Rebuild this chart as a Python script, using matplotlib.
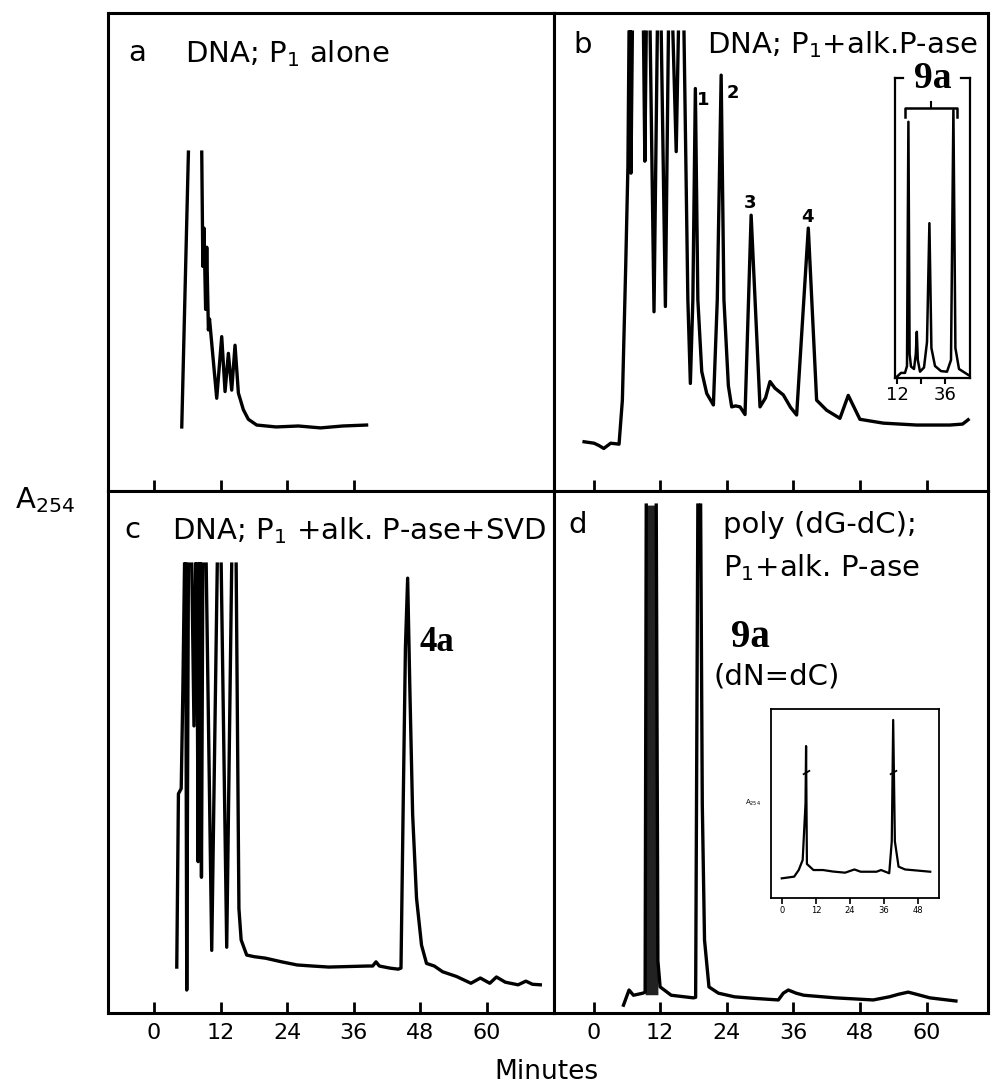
import numpy as np
import matplotlib.pyplot as plt

nan = np.nan
plt.rcParams['font.family'] = ['DejaVu Sans']
plt.rcParams['mathtext.default'] = 'regular'

# ------------------------------------------------------------
# traces (minutes, relative A254)
# nan = pen ran off-scale at the top
# ------------------------------------------------------------
a_t = [5.0, 6.2, nan, 8.6, 8.8, 9.0, 9.3, 9.5, 9.8, 10.0, 11.3, 12.2, 12.8, 13.4,
       14.0, 14.6, 15.2, 16.1, 17.0, 18.5, 22.0, 26.0, 30.0, 34.0, 38.3]
a_v = [13.4, 70.9, nan, 70.9, 47, 55, 38, 51, 33.7, 36, 19.4, 32.3, 20.8, 28.8,
       21.1, 30.5, 20.5, 17.0, 15.0, 13.8, 13.4, 13.6, 13.2, 13.6, 13.8]

b_t = [-1.7, 0.1, 1.0, 1.85, 3.1, 4.6, 5.2, 5.8, 6.2, 6.4, nan, 6.6, 6.75, 7.0, nan,
       9.0, 9.25, 9.5, nan, 10.2, 10.9, 11.5, nan, 12.2, 12.95, 13.5, nan,
       14.3, 14.9, 15.3, nan, 16.3, 17.0, 17.45, 17.9, 18.35, 18.8, 19.5, 20.4,
       21.6, 22.3, 23.0, 23.5, 24.3, 24.9, 25.6, 26.4, 27.3, 28.4,
       30.0, 31.0, 31.8, 32.7, 34.2, 35.5, 36.6, 38.7, 40.2, 42.0,
       44.4, 45.9, 48.0, 52.2, 58.2, 64.2, 66.5, 67.5]
b_v = [10.3, 10.0, 9.5, 8.9, 10.0, 9.8, 19, 47, 68, 96, nan, 96, 66.5, 96, nan,
       96, 69, 96, nan, 96, 37.5, 96, nan, 96, 38.6, 96, nan,
       96, 71, 96, nan, 96, 40, 22.5, 40, 84.2, 40, 25, 20.4,
       18.0, 40, 87, 40, 22, 17.6, 17.8, 17.6, 16.0, 57.7,
       17.6, 19.5, 22.9, 21.5, 20.1, 17.5, 15.9, 55.0, 19.0, 16.9,
       15.2, 20.0, 15.0, 14.2, 13.8, 13.8, 14.0, 14.9]
b_peak_labels = ['1', '2', '3', '4']
b_peak_t = [19.7, 25.1, 28.2, 38.6]
b_peak_v = [81.8, 83.3, 60.3, 57.3]

# inset of panel b (9a standard)
ib_t = [11.9, 14.0, 16.0, 17.0, 17.7, 18.3, 19.0, 20.5, 21.4, 21.9, 22.4, 23.5,
        25.5, 27.0, 28.2, 29.2, 31.0, 34.0, 37.0, 39.0, 40.2, 41.2, 43.0, 47.7]
ib_v = [0.4, 1.7, 1.7, 4, 85.4, 8, 3.8, 3.0, 8, 15.4, 6, 2.1,
        3.5, 12, 51.6, 10, 4, 2.3, 2.1, 6, 89.3, 10, 3, 1.0]

c_t = [4.1, 4.4, 4.9, 5.2, 5.5, nan, 5.7, 5.9, 6.2, nan, 6.8, 7.2, 7.5, nan,
       7.7, 7.95, 8.2, nan, 8.3, 8.55, 8.8, nan, 9.4, 10.4, 11.4, nan,
       12.1, 13.1, 14.0, nan, 14.8, 15.3, 15.7, 16.7, 18.0, 20.1, 23.0, 25.8,
       28.5, 31.5, 35.0, 38.5, 39.4, 40.0, 40.6, 42.5, 44.0, 44.5, 44.9, 45.3,
       45.7, 46.1, 46.6, 47.3, 48.2, 49.1, 50.5, 52.0, 54.5, 57.1, 58.8, 60.5,
       61.7, 63.3, 65.6, 67.0, 68.2, 69.6]
c_v = [8.8, 42, 43, 62, 86, nan, 86, 4.4, 86, nan, 86, 55, 86, nan,
       86, 29, 86, nan, 86, 26, 86, nan, 86, 12, 86, nan,
       86, 12.6, 86, nan, 86, 20, 14, 11.1, 10.8, 10.5, 9.8, 9.2,
       9.0, 8.8, 8.9, 9.0, 9.0, 9.8, 9.0, 8.6, 8.4, 8.6, 40, 70,
       83.3, 62, 38, 22, 13, 9.5, 9.0, 7.9, 7.0, 5.7, 6.7, 5.7,
       6.9, 5.9, 5.4, 6.1, 5.5, 5.4]

d_t = [5.4, 6.4, 7.2, 8.9, 9.3, 9.5, nan, 11.3, 11.6, 12.0, 14.0, 18.0, 18.4, 18.8,
       nan, 19.3, 19.6, 20.0, 20.8, 22.5, 25.4, 29.0, 33.3, 34.2, 35.1, 36.5,
       37.9, 43.6, 50.4, 53.3, 55.0, 56.7, 58.5, 60.6, 65.3]
d_v = [1.5, 4.4, 3.4, 3.8, 4, 97.3, nan, 97.3, 10, 5, 3.4, 2.9, 3.0, 97.3,
       nan, 97.3, 40, 14, 5.0, 3.8, 3.1, 2.8, 2.5, 3.8, 4.4, 3.8,
       3.4, 2.9, 2.5, 3.1, 3.6, 4.0, 3.5, 2.9, 2.3]

# inset of panel d
id_t = [-0.1, 4.3, 5.9, 7.3, 8.3, 8.5, 8.8, 11.1, 14.5, 18.0, 22.3, 25.6,
        27.8, 33.4, 35.0, 37.9, 38.8, 39.3, 39.9, 41.2, 43.5, 48.0, 52.4]
id_v = [10.4, 11.3, 14.8, 20.1, 50, 80.4, 18, 14.8, 14.8, 14.0, 13.4, 15.1,
        13.9, 13.9, 14.8, 13.1, 30, 94.2, 30, 16.6, 15.1, 14.5, 13.9]
id_break_t = [8.45, 39.3]
id_break_v = [66.7, 66.7]

main_ticks = [0, 12, 24, 36, 48, 60]

# ------------------------------------------------------------
fig = plt.figure(figsize=(9.92, 10.84), dpi=100)

left, mid, right = 108 / 992, 554 / 992, 988 / 992
top, hmid, bottom = 1 - 13 / 1084, 1 - 491 / 1084, 1 - 1013 / 1084

ax_a = fig.add_axes([left, hmid, mid - left, top - hmid])
ax_b = fig.add_axes([mid, hmid, right - mid, top - hmid])
ax_c = fig.add_axes([left, bottom, mid - left, hmid - bottom])
ax_d = fig.add_axes([mid, bottom, right - mid, hmid - bottom])

LW = 2.4


def style(ax, xlim, ticks, labels):
    ax.set_xlim(*xlim)
    ax.set_ylim(0, 100)
    ax.set_yticks([])
    ax.set_xticks(ticks)
    ax.tick_params(axis='x', direction='in', length=8, width=2,
                   labelsize=16, pad=7, labelbottom=labels)
    for s in ax.spines.values():
        s.set_linewidth(2.2)


style(ax_a, (-8.29, 72.07), [0, 12, 24, 36], False)
style(ax_b, (-7.12, 71.08), main_ticks, False)
style(ax_c, (-8.29, 72.07), main_ticks, True)
style(ax_d, (-7.12, 71.08), main_ticks, True)

ax_a.plot(a_t, a_v, color='black', lw=LW)
ax_b.plot(b_t, b_v, color='black', lw=LW)
ax_c.plot(c_t, c_v, color='black', lw=LW)
ax_d.plot(d_t, d_v, color='black', lw=LW)

# the first peak in d is a solid dark band
dt = np.array(d_t)
dv = np.array(d_v)
m = np.isfinite(dv) & (dt >= 9.2) & (dt <= 11.7)
ax_d.fill_between(dt[m], dv[m], 3.5, color='#222222', lw=0)

# panel labels
big = 21
ax_a.text(0.065, 0.916, 'a', transform=ax_a.transAxes, fontsize=big, ha='center', va='center')
ax_a.text(0.173, 0.916, 'DNA; P$_1$ alone', transform=ax_a.transAxes, fontsize=big, ha='left', va='center')

ax_b.text(0.067, 0.933, 'b', transform=ax_b.transAxes, fontsize=big, ha='center', va='center')
ax_b.text(0.3525, 0.933, 'DNA; P$_1$+alk.P-ase', transform=ax_b.transAxes, fontsize=big, ha='left', va='center')
for lab, t, v in zip(b_peak_labels, b_peak_t, b_peak_v):
    ax_b.text(t, v, lab, fontsize=13, fontweight='bold', ha='center', va='center')

ax_c.text(0.054, 0.925, 'c', transform=ax_c.transAxes, fontsize=big, ha='center', va='center')
ax_c.text(0.1435, 0.925, 'DNA; P$_1$ +alk. P-ase+SVD', transform=ax_c.transAxes, fontsize=big, ha='left', va='center')
ax_c.text(47.9, 70.9, '4a', family='Liberation Serif', fontweight='bold', fontsize=25, ha='left', va='center')

ax_d.text(0.055, 0.935, 'd', transform=ax_d.transAxes, fontsize=big, ha='center', va='center')
ax_d.text(0.389, 0.935, 'poly (dG-dC);', transform=ax_d.transAxes, fontsize=big, ha='left', va='center')
ax_d.text(0.389, 0.854, 'P$_1$+alk. P-ase', transform=ax_d.transAxes, fontsize=big, ha='left', va='center')
ax_d.text(0.452, 0.72, '9a', transform=ax_d.transAxes, family='Liberation Serif', fontweight='bold',
          fontsize=28, ha='center', va='center')
ax_d.text(0.3665, 0.644, '(dN=dC)', transform=ax_d.transAxes, fontsize=big, ha='left', va='center')

# inset in b
ib = fig.add_axes([895 / 992, 1 - 378 / 1084, 75 / 992, 300 / 1084])
ib.plot(ib_t, ib_v, color='black', lw=1.8)
ib.set_xlim(11, 48.5)
ib.set_ylim(0, 100)
ib.set_yticks([])
ib.set_xticks([12, 24, 36])
ib.set_xticklabels(['12', '', '36'])
ib.tick_params(axis='x', direction='out', length=4, width=1.5, labelsize=13, pad=2)
ib.spines['top'].set_visible(False)
for s in ['left', 'right', 'bottom']:
    ib.spines[s].set_linewidth(1.6)
ib.plot([0, 0.1], [1, 1], transform=ib.transAxes, color='black', lw=1.6, clip_on=False)
ib.plot([0.88, 1], [1, 1], transform=ib.transAxes, color='black', lw=1.6, clip_on=False)
ib.text(0.5, 1.0, '9a', transform=ib.transAxes, family='Liberation Serif', fontweight='bold',
        fontsize=27, ha='center', va='center')
ib.plot([16, 16, 42, 42], [87, 90, 90, 87], color='black', lw=1.8)
ib.plot([29, 29], [90, 92], color='black', lw=1.5)

# inset in d
idx = fig.add_axes([771 / 992, 1 - 898 / 1084, 168 / 992, 189 / 1084])
idx.plot(id_t, id_v, color='black', lw=1.6)
idx.plot(id_break_t, id_break_v, ls='none', marker=(2, 0, -60), ms=6, mew=1.3, color='black')
idx.set_xlim(-3.9, 55.5)
idx.set_ylim(0, 100)
idx.set_yticks([])
idx.set_xticks([0, 12, 24, 36, 48])
idx.tick_params(axis='x', direction='out', length=4, width=1.2, labelsize=6, pad=2)
for s in idx.spines.values():
    s.set_linewidth(1.3)
idx.text(-0.107, 0.503, 'A$_{254}$', transform=idx.transAxes, fontsize=5, ha='center', va='center')

fig.text(15 / 992, 1 - 500 / 1084, 'A$_{254}$', fontsize=21, ha='left', va='center')
fig.text(0.551, 1 - 1072 / 1084, 'Minutes', fontsize=19, ha='center', va='center')

fig.savefig('out.png', dpi=100)
